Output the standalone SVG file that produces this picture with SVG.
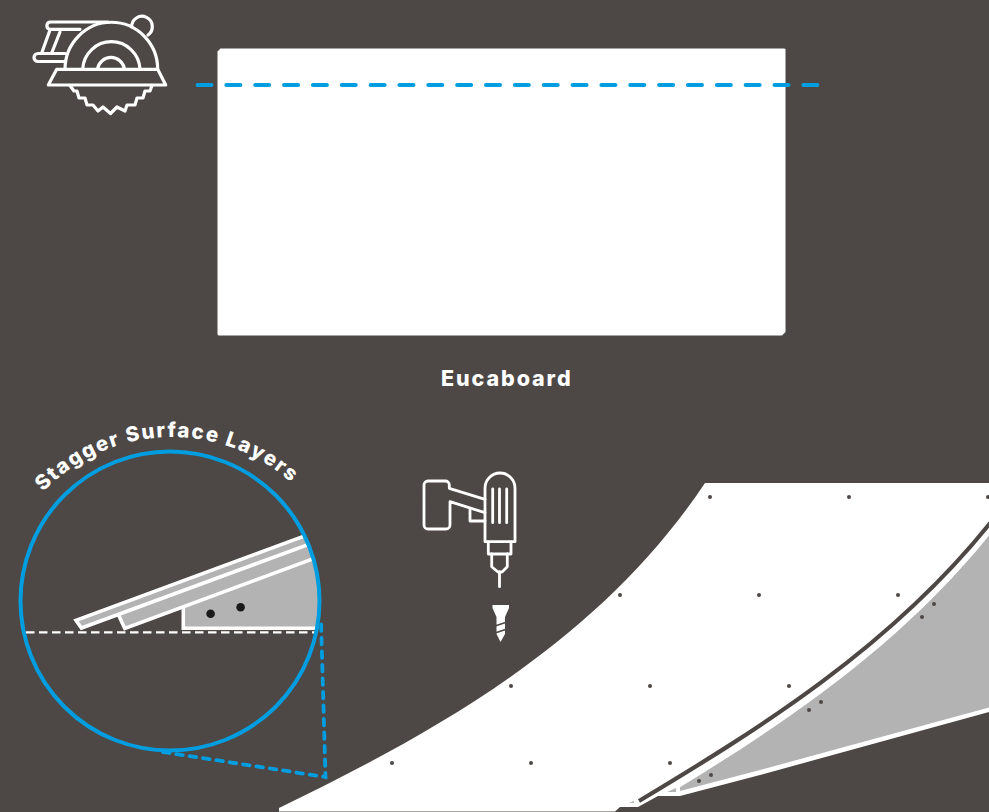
<svg xmlns="http://www.w3.org/2000/svg" width="989" height="812" viewBox="0 0 989 812">
<style>
.ln{fill:none;stroke:#fff;stroke-width:3.200;stroke-linejoin:round;stroke-linecap:round}
.t{font-family:"Inter","Liberation Sans",sans-serif;font-weight:800;fill:#fff}
.d{fill:#4d4845}
.g{fill:#b3b3b3}
.w{fill:none;stroke:#fff;stroke-width:3.600}
</style>
<defs>
<clipPath id="cc"><circle cx="170" cy="601" r="149"/></clipPath>
<clipPath id="rc"><rect x="680" y="480" width="320" height="340"/></clipPath>
<path id="arc" d="M-7,616A179,179 0 0 1 351,616"/>
</defs>
<rect width="989" height="812" fill="#4d4845"/>
<g id="sheet">
<path fill="#fff" d="M220.500,48.500H784.500L785.500,49.500V332L782,335.500H218.500L217.500,334.500V51.500Z"/>
<text class="t" x="441" y="386" font-size="21.500" letter-spacing="1.900">Eucaboard</text>
</g>
<g id="saw" class="ln">
<path d="M56.700,69.300H157.700L165.700,85H48.300Z"/>
<path d="M65,69.300A46.300,47 0 0 1 157.700,69.300"/>
<path d="M82.700,69A28.700,29 0 0 1 140,69"/>
<path d="M97.500,69A13.700,14 0 0 1 124.500,69"/>
<path d="M131.700,27A10.300,10.300 0 1 1 148,35"/>
<path d="M108,22H50A3.700,3.700 0 0 0 50,29.300H80"/>
<path d="M65,53.500H38A4,4 0 0 0 38,61.500H65"/>
<path d="M50,30L41.700,53M60,32L51.700,53"/>
<path d="M70,85.500L74,91H77L79,98H85L87,105H93L98,111L103,107L110.500,113.500L117,107L125,111L127,105H135L137,98H143L145,91H150L152,85.500"/>
</g>
<g id="drill">
<g class="ln" style="stroke-width:2.800">
<path d="M485,541.700V488A15,15 0 0 1 515,488V541.700Z"/>
<path d="M492.700,489V522.700M499.500,489V522.700M506.700,489V522.700"/>
<path d="M488.300,542V554H511V542"/>
<path d="M491.700,554V566.700L498,572H502L507.300,566.700V554"/>
<path d="M499.500,572V586.700"/>
<path d="M485,499.300L449.300,488.300V485A4,4 0 0 0 445,481H428A4,4 0 0 0 424,485V525A4,4 0 0 0 428,529H446A4,4 0 0 0 450,525V501.700L485,512.700"/>
<path d="M470,510V521H485"/>
</g>
<path fill="#fff" d="M492.500,605H509V608L505,617V634L500.500,642L496.500,634V617L492.500,608Z"/>
<path fill="none" stroke="#4d4845" stroke-width="1.800" d="M495,626L507,622M495,633L507,629"/>
</g>
<g id="detail">
<circle cx="170" cy="601" r="149.500" fill="#4d4845"/>
<g clip-path="url(#cc)">
<path class="g" d="M77,621L330,527V628.300H183.300V608L125,628L118.300,615.700L82,628Z"/>
<path class="w" d="M330,526.500L76,620.300L81.500,628L330,536.500"/>
<path class="w" d="M118.300,614.500L124.800,628.400L330,552.500"/>
<path class="w" d="M183.300,607.500V628.300H330"/>
</g>
<circle cx="210.600" cy="613.700" r="4.300" fill="#1a1a1a"/>
<circle cx="240.600" cy="607.300" r="4.300" fill="#1a1a1a"/>
<path d="M26,632.300H317" fill="none" stroke="#fff" stroke-width="2.200" stroke-dasharray="8.500 4.500"/>
<circle cx="170" cy="601" r="149.500" fill="none" stroke="#009ee0" stroke-width="4"/>
<text class="t" font-size="20.500" letter-spacing="1.700"><textPath href="#arc" startOffset="137">Stagger Surface Layers</textPath></text>
</g>
<g id="ramp">
<path fill="#fff" d="M279,808C440,730 600,640 705,483H989V712L760,775L680,796H658L638,807H620L615,811.500H279Z"/>
<path fill="none" stroke="#4d4845" stroke-width="4.200" d="M639,801C759,729 891,647 991,522"/>
<path class="g" clip-path="url(#rc)" d="M639,812C759,740 891,658 991,533V707L760,770L680,791Z"/>
<path class="g" d="M667,792L676,788V792ZM629,803L634,801V803Z"/>
<g class="d">
<circle cx="710" cy="497" r="2"/><circle cx="849" cy="497" r="2"/><circle cx="988" cy="497" r="2"/>
<circle cx="620" cy="595" r="2"/><circle cx="759" cy="595" r="2"/><circle cx="898" cy="595" r="2"/>
<circle cx="511" cy="686" r="2"/><circle cx="650" cy="686" r="2"/><circle cx="789" cy="686" r="2"/>
<circle cx="392" cy="763" r="2"/><circle cx="531" cy="763" r="2"/><circle cx="670" cy="763" r="2"/>
<circle cx="934" cy="604" r="2"/><circle cx="922" cy="617" r="2"/>
<circle cx="821" cy="702" r="2"/><circle cx="809" cy="710" r="2"/>
<circle cx="711" cy="775" r="2"/><circle cx="699" cy="781" r="2"/>
</g>
</g>
<g id="connectors" fill="none" stroke="#009ee0" stroke-linecap="round">
<path stroke-width="4" stroke-dasharray="14 14.850" d="M197.500,85H818"/>
<path stroke-width="3.800" stroke-dasharray="6.500 7" d="M163,752L325.500,777L321,620"/>
</g>
</svg>
